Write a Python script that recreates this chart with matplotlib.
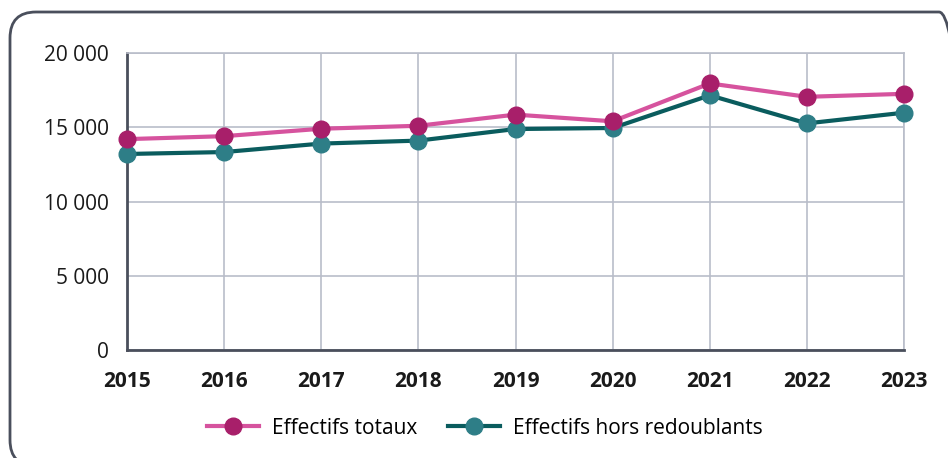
import matplotlib
matplotlib.use("Agg")
import matplotlib.pyplot as plt
from matplotlib.patches import FancyBboxPatch
from matplotlib.ticker import FuncFormatter

years = [2015, 2016, 2017, 2018, 2019, 2020, 2021, 2022, 2023]
effectifs_totaux = [14200, 14400, 14900, 15100, 15850, 15400, 17950, 17050, 17250]
effectifs_hors_redoublants = [13200, 13330, 13900, 14100, 14880, 14950, 17150, 15260, 15980]
yticks = [0, 5000, 10000, 15000, 20000]
series_labels = ["Effectifs totaux", "Effectifs hors redoublants"]

plt.rcParams['font.family'] = ['Open Sans', 'DejaVu Sans']

fig = plt.figure(figsize=(9.48, 4.58), dpi=100)
ax = fig.add_axes([127/948, 1-350/458, (904-127)/948, (350-53)/458])

grid_c = "#b9bdc9"
spine_c = "#4a4f5c"

ax.plot(years, effectifs_totaux, color="#d6539e", lw=3, marker="o", ms=12,
        mfc="#a81f6a", mec="#a81f6a", label=series_labels[0], zorder=4, clip_on=False)
ax.plot(years, effectifs_hors_redoublants, color="#0a5c5e", lw=3, marker="o", ms=12,
        mfc="#2e7e87", mec="#2e7e87", label=series_labels[1], zorder=3, clip_on=False)

ax.set_xlim(2015, 2023)
ax.set_ylim(0, 20000)
ax.set_xticks(years)
ax.set_yticks(yticks)
ax.yaxis.set_major_formatter(FuncFormatter(lambda v, p: f"{int(v):,}".replace(",", " ")))
ax.grid(True, color=grid_c, lw=1.2, zorder=0)
ax.set_axisbelow(True)

for s in ["top", "right"]:
    ax.spines[s].set_color(grid_c)
    ax.spines[s].set_linewidth(1.2)
for s in ["left", "bottom"]:
    ax.spines[s].set_color(spine_c)
    ax.spines[s].set_linewidth(2)

ax.tick_params(axis="both", length=0)
ax.tick_params(axis="y", pad=13, labelsize=15, labelcolor="#1a1a1a")
ax.tick_params(axis="x", pad=15, labelsize=15, labelcolor="#1a1a1a")
for t in ax.get_xticklabels():
    t.set_fontweight("bold")

leg = fig.legend(loc="center", bbox_to_anchor=(485/948, 1-428/458), ncol=2, frameon=False,
                 fontsize=15, handlelength=2.5, columnspacing=1.5, handletextpad=0.6)

box = FancyBboxPatch((0.10, -0.08), 9.55, 4.54, boxstyle="round,pad=0,rounding_size=0.26",
                     transform=fig.dpi_scale_trans, fill=False, ec=spine_c, lw=2)
fig.patches.append(box)

fig.savefig("out.png", dpi=100)
